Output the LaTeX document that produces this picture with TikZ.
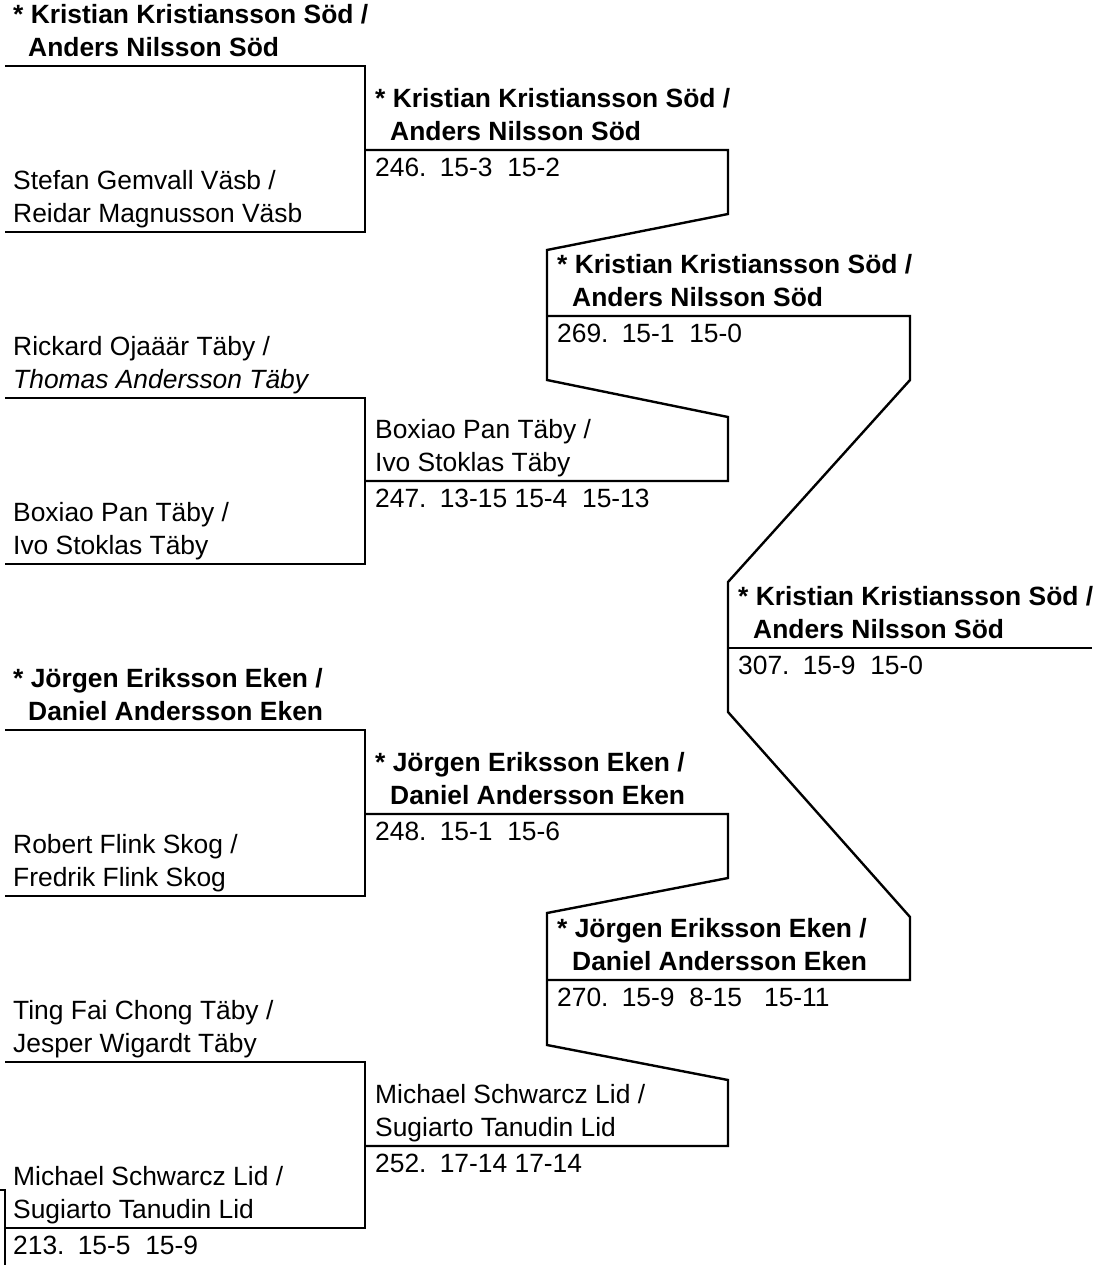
\documentclass[tikz,border=0pt]{standalone}
\usepackage{fontspec}
\setmainfont{Liberation Sans}

\begin{document}
\begin{tikzpicture}[x=0.5pt,y=-0.5pt,line width=1.2pt,
  every node/.style={inner sep=0pt,font=\fontsize{13.2pt}{16.3pt}\selectfont},
  player/.style={anchor=south west,align=left,text depth=0pt,yshift=4.15pt},
  winner/.style={player,font=\fontsize{13.2pt}{16.3pt}\selectfont\bfseries},
  result/.style={anchor=base west,yshift=-13pt}]

        \useasboundingbox (0,0) rectangle (1115,1265);

        % line ends
        \coordinate (a1) at (5,66);     \coordinate (a2) at (5,232);
        \coordinate (a3) at (5,398);    \coordinate (a4) at (5,564);
        \coordinate (a5) at (5,730);    \coordinate (a6) at (5,896);
        \coordinate (a7) at (5,1062);   \coordinate (a8) at (5,1228);
        \coordinate (b1) at (365,150);  \coordinate (b2) at (365,481);
        \coordinate (b3) at (365,814);  \coordinate (b4) at (365,1146);
        \coordinate (c1) at (547,316);  \coordinate (c2) at (547,980);
        \coordinate (d1) at (728,648);
        \coordinate (q1) at (0,1190);   \coordinate (q2) at (5,1265);

        \begin{scope}[every node/.append style={player}]
          \node (1) at (12,232)  {Stefan Gemvall Väsb /\\Reidar Magnusson Väsb};
          \node (2) at (12,398)  {Rickard Ojaäär Täby /\\\textit{Thomas Andersson Täby}};
          \node (3) at (12,564)  {Boxiao Pan Täby /\\Ivo Stoklas Täby};
          \node (4) at (12,896)  {Robert Flink Skog /\\Fredrik Flink Skog};
          \node (5) at (12,1062) {Ting Fai Chong Täby /\\Jesper Wigardt Täby};
          \node (6) at (12,1228) {Michael Schwarcz Lid /\\Sugiarto Tanudin Lid};
          \node (7) at (374,481) {Boxiao Pan Täby /\\Ivo Stoklas Täby};
          \node (8) at (374,1146) {Michael Schwarcz Lid /\\Sugiarto Tanudin Lid};
        \end{scope}

        \begin{scope}[every node/.append style={winner}]
          \node (w1) at (12,66)   {* Kristian Kristiansson Söd /\\\hspace*{7.5pt}Anders Nilsson Söd};
          \node (w2) at (12,730)  {* Jörgen Eriksson Eken /\\\hspace*{7.5pt}Daniel Andersson Eken};
          \node (w3) at (374,150) {* Kristian Kristiansson Söd /\\\hspace*{7.5pt}Anders Nilsson Söd};
          \node (w4) at (374,814) {* Jörgen Eriksson Eken /\\\hspace*{7.5pt}Daniel Andersson Eken};
          \node (w5) at (556,316) {* Kristian Kristiansson Söd /\\\hspace*{7.5pt}Anders Nilsson Söd};
          \node (w6) at (556,980) {* Jörgen Eriksson Eken /\\\hspace*{7.5pt}Daniel Andersson Eken};
          \node (w7) at (737,648) {* Kristian Kristiansson Söd /\\\hspace*{7.5pt}Anders Nilsson Söd};
        \end{scope}

        \begin{scope}[every node/.append style={result}]
          \node (s213) at (12,1228)  {213.\enspace 15-5\ \ 15-9};
          \node (s246) at (374,150)  {246.\enspace 15-3\ \ 15-2};
          \node (s247) at (374,481)  {247.\enspace 13-15 15-4\ \ 15-13};
          \node (s248) at (374,814)  {248.\enspace 15-1\ \ 15-6};
          \node (s252) at (374,1146) {252.\enspace 17-14 17-14};
          \node (s269) at (556,316)  {269.\enspace 15-1\ \ 15-0};
          \node (s270) at (556,980)  {270.\enspace 15-9\ \ 8-15\ \ \ 15-11};
          \node (s307) at (737,648)  {307.\enspace 15-9\ \ 15-0};
        \end{scope}

        % first round
        \draw (a1) -- (a1 -| b1) -- (a2 -| b1) -- (a2);
        \draw (a3) -- (a3 -| b1) -- (a4 -| b1) -- (a4);
        \draw (a5) -- (a5 -| b1) -- (a6 -| b1) -- (a6);
        \draw (a7) -- (a7 -| b1) -- (a8 -| b1) -- (a8);
        \draw (q1) -- (q1 -| q2) -- (q2);

        % second round
        \draw (b1) -- ++(363,0) -- ++(0,64) -- (547,250) -- (547,380)
              -- (728,417) -- (728,481) -- (b2);
        \draw (b3) -- ++(363,0) -- ++(0,64) -- (547,913) -- (547,1045)
              -- (728,1080) -- (728,1146) -- (b4);

        % third round
        \draw (c1) -- ++(363,0) -- ++(0,64) -- (728,582) -- (728,712)
              -- (910,917) -- (910,980) -- (c2);

        % final
        \draw (d1) -- ++(364,0);

      \end{tikzpicture}
\end{document}
